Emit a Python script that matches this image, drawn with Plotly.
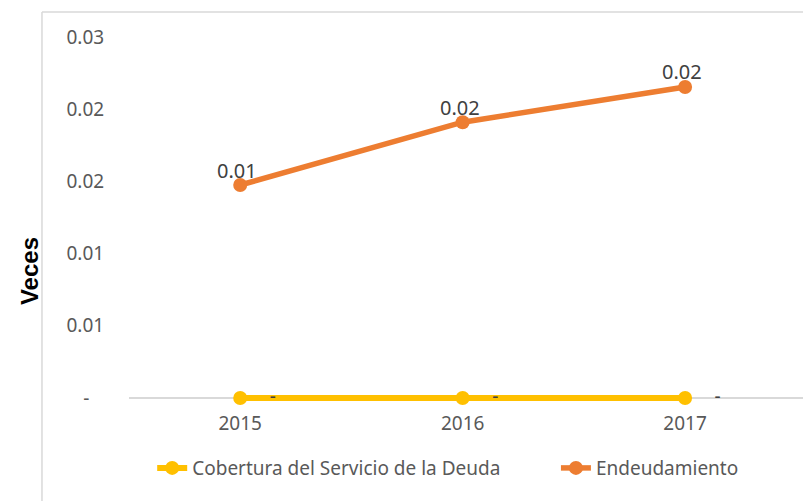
import plotly.graph_objects as go

years = ["2015", "2016", "2017"]
cobertura = [0.0, 0.0, 0.0]
endeudamiento = [0.01475, 0.0191, 0.02154]
ytick_vals = [0.0, 0.005, 0.01, 0.015, 0.02, 0.025]
ytick_text = ["-\u00a0\u00a0\u00a0", "0.01", "0.01", "0.02", "0.02", "0.03"]

FONT = "Noto Sans"
YELLOW = "#FFC000"
ORANGE = "#ED7D31"

cob_text = ["\u00a0" * 4 + "-" if v == 0 else f"{v:.2f}" for v in cobertura]

fig = go.Figure()
fig.add_trace(go.Scatter(
    x=years, y=cobertura, mode="lines+markers+text",
    name="Cobertura del Servicio de la Deuda",
    line=dict(color=YELLOW, width=6),
    marker=dict(color=YELLOW, size=14),
    text=cob_text, textposition="middle right",
    textfont=dict(family=FONT, size=19, color="#404040"),
    cliponaxis=False, legend="legend",
))
fig.add_trace(go.Scatter(
    x=years, y=endeudamiento, mode="lines+markers",
    name="Endeudamiento",
    line=dict(color=ORANGE, width=5.5),
    marker=dict(color=ORANGE, size=14),
    cliponaxis=False, legend="legend2",
))

annotations = [
    dict(x=i, y=v, xref="x", yref="y", text=f"{v:.2f}", showarrow=False,
         yshift=15, xshift=-3, font=dict(family=FONT, size=20, color="#404040"))
    for i, v in enumerate(endeudamiento)
]
annotations.append(dict(
    x=-0.145, y=0.359, xref="paper", yref="paper", text="<b>Veces</b>", textangle=-90,
    showarrow=False, xanchor="center", yanchor="middle",
    font=dict(family="Liberation Sans", size=24, color="#000000"),
))

legend_font = dict(family=FONT, size=19, color="#595959")

fig.update_layout(
    width=811, height=501,
    margin=dict(l=121, r=8, t=29, b=107),
    paper_bgcolor="white", plot_bgcolor="white",
    font=dict(family=FONT, size=19, color="#595959"),
    showlegend=True,
    legend=dict(orientation="h", x=0.034, xanchor="left", y=-0.181, yanchor="middle",
                font=legend_font),
    legend2=dict(orientation="h", x=0.626, xanchor="left", y=-0.181, yanchor="middle",
                 font=legend_font),
    xaxis=dict(type="category", range=[-0.5, 2.566], showgrid=False, zeroline=False,
               showline=False,
               ticks="outside", ticklen=4, tickcolor="rgba(0,0,0,0)",
               tickfont=dict(family=FONT, size=19, color="#595959")),
    yaxis=dict(range=[-0.000277, 0.025], tickvals=ytick_vals, ticktext=ytick_text,
               showgrid=False, zeroline=True, zerolinecolor="#D9D9D9", zerolinewidth=1.5,
               showline=False,
               ticks="outside", ticklen=20, tickcolor="rgba(0,0,0,0)",
               tickfont=dict(family=FONT, size=19, color="#595959")),
    annotations=annotations,
    shapes=[
        dict(type="line", xref="paper", yref="paper", x0=-0.1276, x1=-0.1276, y0=1.0685, y1=-0.35,
             line=dict(color="#D9D9D9", width=1.5)),
        dict(type="line", xref="paper", yref="paper", x0=-0.1276, x1=1.05, y0=1.0685, y1=1.0685,
             line=dict(color="#D9D9D9", width=1.5)),
    ],
)

fig.write_html("out.html")
